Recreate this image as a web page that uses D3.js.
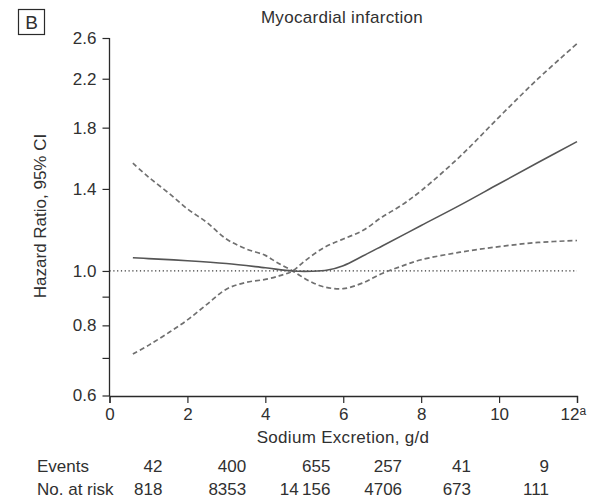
<!DOCTYPE html>
<html>
<head>
<meta charset="utf-8">
<script src="https://cdn.jsdelivr.net/npm/d3@7"></script>
<style>
  html, body { margin: 0; padding: 0; background: #fff; }
  svg text { font-family: "Liberation Sans", Arial, Helvetica, sans-serif; fill: #303030; }
</style>
</head>
<body>
<svg id="chart" width="593" height="501"></svg>
<script>
// Sodium excretion (g/d) where the spline curves are evaluated
const hrX    = [0.6, 1, 2, 3, 4, 4.7, 5.2, 5.6, 6, 6.5, 7, 8, 9, 10, 11, 12];
// Hazard ratio estimate
const hrY    = [1.056, 1.052, 1.043, 1.031, 1.013, 1.0, 0.999, 1.004, 1.022, 1.063, 1.108, 1.205, 1.31, 1.43, 1.56, 1.70];

// Confidence band, first bound (high on the left, dips below 1 on the right)
const ciAX   = [0.6, 1, 1.5, 2, 2.5, 3, 3.5, 4, 4.3, 4.7, 5.1, 5.5, 6, 6.5, 7, 7.5, 8, 9, 10, 11, 12];
const ciAY   = [1.556, 1.47, 1.38, 1.29, 1.22, 1.14, 1.095, 1.066, 1.035, 1.0, 0.962, 0.937, 0.93, 0.952, 0.99, 1.02, 1.047, 1.08, 1.105, 1.124, 1.133];

// Confidence band, second bound (low on the left, widening upward on the right)
const ciBX   = [0.6, 1, 1.5, 2, 2.5, 3, 3.5, 4, 4.4, 4.7, 5, 5.5, 6, 6.5, 7, 7.5, 8, 9, 10, 11, 12];
const ciBY   = [0.711, 0.737, 0.775, 0.818, 0.872, 0.928, 0.954, 0.966, 0.982, 1.0, 1.04, 1.10, 1.14, 1.18, 1.248, 1.31, 1.39, 1.60, 1.88, 2.20, 2.54];

// Axis ticks
const xTicks       = [0, 2, 4, 6, 8, 10, 12];
const yTicksMajor  = [0.6, 0.8, 1.0, 1.4, 1.8, 2.2, 2.6];
const yTicksMinor  = [0.7, 0.9];

// Risk table
const tableRows = ["Events", "No. at risk"];
const events    = ["42", "400", "655", "257", "41", "9"];
const atRisk    = ["818", "8353", "14\u2009156", "4706", "673", "111"];

// ---- layout ----
const svg = d3.select("#chart");
const ink = "#2a2a2a";
const fs = 17;
const x = d3.scaleLinear().domain([0, 12]).range([109.5, 577]);
const y = d3.scaleLog().domain([0.6, 2.6]).range([395.5, 38]);
const axisY0 = 396;

// Panel letter
svg.append("rect").attr("x", 18.5).attr("y", 9.5).attr("width", 26).attr("height", 25)
  .attr("fill", "none").attr("stroke", ink).attr("stroke-width", 1.2);
svg.append("text").attr("x", 31.5).attr("y", 29).attr("text-anchor", "middle")
  .attr("font-size", 19).text("B");

// Title
svg.append("text").attr("x", 342).attr("y", 23).attr("text-anchor", "middle")
  .attr("font-size", fs).attr("letter-spacing", 0.3).text("Myocardial infarction");

// Reference line at HR = 1
svg.append("line")
  .attr("x1", x(0)).attr("x2", x(12)).attr("y1", y(1)).attr("y2", y(1))
  .attr("stroke", "#333").attr("stroke-width", 1.2).attr("stroke-dasharray", "1.2,2.6");

// Curves
const line = d3.line().x(d => x(d[0])).y(d => y(d[1])).curve(d3.curveCatmullRom.alpha(0.5));
const zip = (a, b) => a.map((v, i) => [v, b[i]]);

svg.append("path").datum(zip(ciAX, ciAY)).attr("d", line)
  .attr("fill", "none").attr("stroke", "#707070").attr("stroke-width", 1.7).attr("stroke-dasharray", "5,3");
svg.append("path").datum(zip(ciBX, ciBY)).attr("d", line)
  .attr("fill", "none").attr("stroke", "#707070").attr("stroke-width", 1.7).attr("stroke-dasharray", "5,3");
svg.append("path").datum(zip(hrX, hrY)).attr("d", line)
  .attr("fill", "none").attr("stroke", "#555").attr("stroke-width", 1.6);

// Y axis
const yAxis = svg.append("g").attr("transform", `translate(${x(0)},0)`)
  .call(d3.axisLeft(y).tickValues(yTicksMajor.concat(yTicksMinor))
    .tickFormat(d => yTicksMinor.includes(d) ? "" : d3.format(".1f")(d))
    .tickSizeOuter(0).tickSize(7).tickPadding(6));
yAxis.select(".domain").attr("stroke", ink).attr("stroke-width", 1.3)
  .attr("d", `M0,${y(2.6)}V${axisY0}`);
yAxis.selectAll(".tick line").attr("stroke", ink).attr("stroke-width", 1.2);
yAxis.selectAll(".tick text").attr("font-size", fs).attr("font-family", null).attr("fill", "#303030");

// X axis
const xAxis = svg.append("g").attr("transform", `translate(0,${axisY0})`)
  .call(d3.axisBottom(x).tickValues(xTicks).tickFormat(d => d).tickSizeOuter(0).tickSize(7).tickPadding(5));
xAxis.select(".domain").attr("stroke", ink).attr("stroke-width", 1.3);
xAxis.selectAll(".tick line").attr("stroke", ink).attr("stroke-width", 1.2);
xAxis.selectAll(".tick text").attr("font-size", fs).attr("font-family", null).attr("fill", "#303030")
  .each(function(d) {
    if (d === 12) {
      const t = d3.select(this).text(null);
      t.append("tspan").text("12");
      t.append("tspan").attr("font-size", 12).attr("dy", "-0.45em").text("a");
      t.attr("text-anchor", "start").attr("x", -17);
    }
  });

// Axis titles
svg.append("text").attr("x", 343).attr("y", 443).attr("text-anchor", "middle")
  .attr("font-size", fs).attr("letter-spacing", 0.3).text("Sodium Excretion, g/d");
svg.append("text").attr("transform", "translate(46,216) rotate(-90)").attr("text-anchor", "middle")
  .attr("font-size", fs).text("Hazard Ratio, 95% CI");

// Risk table
const colRight = [1.36, 3.51, 5.67, 7.51, 9.28, 11.28];
const rowBase = [472, 495];
tableRows.forEach((lab, r) => {
  svg.append("text").attr("x", 37).attr("y", rowBase[r]).attr("font-size", fs).text(lab);
  const vals = r === 0 ? events : atRisk;
  svg.selectAll(null).data(vals).enter().append("text")
    .attr("x", (d, i) => x(colRight[i])).attr("y", rowBase[r])
    .attr("text-anchor", "end").attr("font-size", fs).text(d => d);
});
</script>
</body>
</html>
